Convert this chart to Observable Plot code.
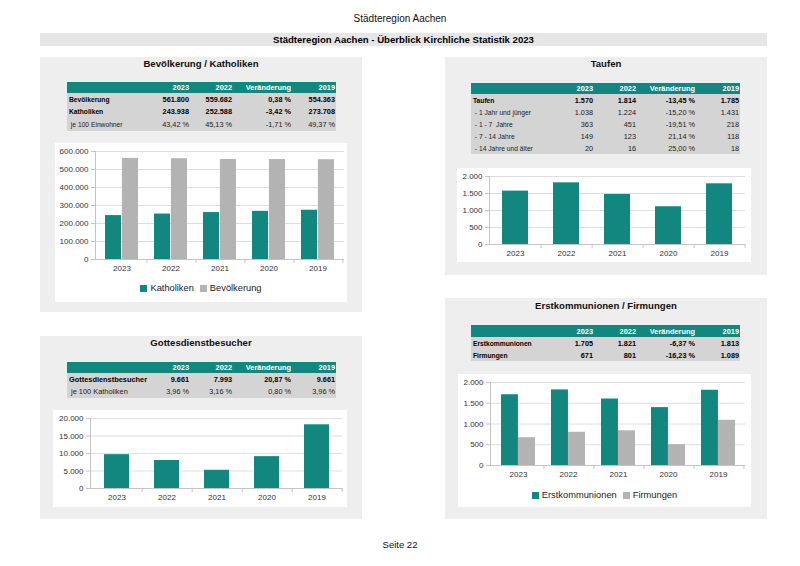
<!DOCTYPE html>
<html><head><meta charset="utf-8">
<script src="https://cdn.jsdelivr.net/npm/d3@7"></script>
<script src="https://cdn.jsdelivr.net/npm/@observablehq/plot@0.6"></script>
<style>
body{margin:0;background:#fff;font-family:"Liberation Sans",Arial,sans-serif;}
#page{position:relative;width:800px;height:566px;overflow:hidden;background:#fff;}
.a{position:absolute;}
.panel{position:absolute;background:#eeeeee;}
.ptitle{position:absolute;text-align:center;font-weight:bold;font-size:9.6px;color:#111;line-height:12px;}
.box{position:absolute;background:#fff;}
table.t{position:absolute;border-collapse:collapse;table-layout:fixed;font-family:"Liberation Sans",Arial,sans-serif;}
table.t td{padding:0 1px;white-space:nowrap;overflow:hidden;text-align:right;font-size:7.3px;color:#222;}
table.t td.l{text-align:left;font-size:6.7px;padding-left:2px;}
table.t tr.h td{background:#12877f;color:#fff;font-weight:bold;font-size:7.4px;}
table.t tr.r td{background:#d4d4d4;}
table.t tr.b td{font-weight:bold;color:#000;}
.legend{position:absolute;left:0;right:0;display:flex;justify-content:center;align-items:center;font-size:9.3px;color:#222;gap:6px;}
.legend span.sw{display:inline-block;width:7px;height:7px;margin-right:3px;vertical-align:middle;}
</style>
</head><body>
<div id="page"></div>
<script>
// ---------- data ----------
const years = ["2023", "2022", "2021", "2020", "2019"];
const katholiken = [243938, 252588, 260800, 267600, 273708];
const bevoelkerung = [561800, 559682, 555500, 555200, 554363];
const taufen = [1570, 1814, 1472, 1110, 1785];
const gottesdienstbesucher = [9661, 7993, 5200, 9100, 18200];
const erstkommunionen = [1705, 1821, 1602, 1395, 1813];
const firmungen = [671, 801, 837, 502, 1089];

const tableHeader = ["", "2023", "2022", "Veränderung", "2019"];
const tabBevoelkerung = [
  ["Bevölkerung", "561.800", "559.682", "0,38 %", "554.363", true],
  ["Katholiken", "243.938", "252.588", "-3,42 %", "273.708", true],
  [" je 100 Einwohner", "43,42 %", "45,13 %", "-1,71 %", "49,37 %", false]
];
const tabTaufen = [
  ["Taufen", "1.570", "1.814", "-13,45 %", "1.785", true],
  [" - 1 Jahr und jünger", "1.038", "1.224", "-15,20 %", "1.431", false],
  [" - 1 - 7  Jahre", "363", "451", "-19,51 %", "218", false],
  [" - 7 - 14 Jahre", "149", "123", "21,14 %", "118", false],
  [" - 14 Jahre und älter", "20", "16", "25,00 %", "18", false]
];
const tabGottesdienst = [
  ["Gottesdienstbesucher", "9.661", "7.993", "20,87 %", "9.661", true],
  [" je 100 Katholiken", "3,96 %", "3,16 %", "0,80 %", "3,96 %", false]
];
const tabSakramente = [
  ["Erstkommunionen", "1.705", "1.821", "-6,37 %", "1.813", true],
  ["Firmungen", "671", "801", "-16,23 %", "1.089", true]
];

const pageTitle = "Städteregion Aachen";
const pageSubtitle = "Städteregion Aachen - Überblick Kirchliche Statistik 2023";
const footer = "Seite 22";

const TEAL = "#12877f", GREY = "#b3b3b3";

// ---------- helpers ----------
const page = document.getElementById("page");
function div(cls, css, text) {
  const d = document.createElement("div");
  if (cls) d.className = cls;
  Object.assign(d.style, css);
  if (text != null) d.textContent = text;
  page.appendChild(d);
  return d;
}
const fmtDE = d3.formatLocale({decimal: ",", thousands: ".", grouping: [3], currency: ["", " €"]}).format(",d");

function makeTable(rows, x, y, headH, rowH, labelSize) {
  const t = document.createElement("table");
  t.className = "t";
  Object.assign(t.style, {left: x + "px", top: y + "px", width: "269px"});
  const cg = document.createElement("colgroup");
  [83, 40, 43, 59, 44].forEach(w => { const c = document.createElement("col"); c.style.width = w + "px"; cg.appendChild(c); });
  t.appendChild(cg);
  const hr = document.createElement("tr"); hr.className = "h"; hr.style.height = headH + "px";
  tableHeader.forEach((h, i) => { const td = document.createElement("td"); td.textContent = h; if (i === 0) td.className = "l"; hr.appendChild(td); });
  t.appendChild(hr);
  rows.forEach(r => {
    const tr = document.createElement("tr"); tr.className = "r" + (r[5] ? " b" : ""); tr.style.height = rowH + "px";
    r.slice(0, 5).forEach((v, i) => {
      const td = document.createElement("td"); td.textContent = v;
      if (i === 0) { td.className = "l"; td.style.whiteSpace = "pre"; if (labelSize) td.style.fontSize = labelSize + "px"; }
      tr.appendChild(td);
    });
    t.appendChild(tr);
  });
  page.appendChild(t);
}

function chart({x, y, w, h, svgH, ml, mr, mt, mb, yMax, yStep, series, pi, po, legend}) {
  const box = div("box", {left: x + "px", top: y + "px", width: w + "px", height: h + "px"});
  const step = (w - ml - mr) / (years.length - pi + 2 * po);
  const bw = step * (1 - pi);
  const n = series.length;
  const ticks = d3.range(0, yMax + 1, yStep);
  const marks = [
    Plot.gridY(ticks, {stroke: "#dedede", strokeOpacity: 1}),
    Plot.frame({anchor: "left", stroke: "#c4c4c4"})
  ];
  series.forEach((s, k) => {
    marks.push(Plot.barY(years.map((yr, i) => ({year: yr, value: s.values[i]})), {
      x: "year", y: "value", fill: s.color,
      insetLeft: k * bw / n, insetRight: (n - 1 - k) * bw / n
    }));
  });
  marks.push(Plot.ruleY([0], {stroke: "#c4c4c4"}));
  // category boundary ticks below the baseline
  marks.push(Plot.axisX(years, {tickSize: 4, dx: step / 2, tickFormat: () => "", stroke: "#c4c4c4"}));
  marks.push(Plot.axisY(ticks, {tickSize: 4, tickPadding: 3, tickFormat: fmtDE, stroke: "#c4c4c4", fill: "#333"}));
  marks.push(Plot.axisX({tickSize: 0, tickPadding: 6, fill: "#333"}));
  const p = Plot.plot({
    width: w, height: svgH,
    marginLeft: ml, marginRight: mr, marginTop: mt, marginBottom: mb,
    style: {fontFamily: "Liberation Sans, Arial, sans-serif", fontSize: "8px", color: "#333", background: "transparent", overflow: "visible"},
    x: {domain: years, paddingInner: pi, paddingOuter: po, align: 0.5, label: null, axis: null},
    y: {domain: [0, yMax], label: null, axis: null},
    marks
  });
  p.style.position = "absolute"; p.style.left = "0px"; p.style.top = "0px";
  box.appendChild(p);
  if (legend) {
    const lg = document.createElement("div");
    lg.className = "legend";
    lg.style.top = legend + "px";
    series.forEach(s => {
      const it = document.createElement("span");
      it.innerHTML = `<span class="sw" style="background:${s.color}"></span>`;
      it.appendChild(document.createTextNode(s.name));
      lg.appendChild(it);
    });
    box.appendChild(lg);
  }
}

// ---------- page ----------
div("a", {left: "0px", width: "800px", top: "13px", textAlign: "center", fontSize: "10px", color: "#111", lineHeight: "12px"}, pageTitle);
div("a", {left: "40px", width: "727px", top: "33px", height: "13px", background: "#e6e6e6", textAlign: "center", fontSize: "9.6px", fontWeight: "bold", lineHeight: "13px", color: "#000"}, pageSubtitle);

// panels
div("panel", {left: "40px", top: "57px", width: "322px", height: "255px"});
div("panel", {left: "445px", top: "57px", width: "322px", height: "218px"});
div("panel", {left: "40px", top: "336px", width: "322px", height: "183px"});
div("panel", {left: "445px", top: "298px", width: "322px", height: "221px"});

div("ptitle", {left: "40px", width: "322px", top: "58px"}, "Bevölkerung / Katholiken");
div("ptitle", {left: "445px", width: "322px", top: "58px"}, "Taufen");
div("ptitle", {left: "40px", width: "322px", top: "337px"}, "Gottesdienstbesucher");
div("ptitle", {left: "445px", width: "322px", top: "300px"}, "Erstkommunionen / Firmungen");

makeTable(tabBevoelkerung, 67, 82, 11, 12.5);
makeTable(tabTaufen, 471, 83, 11, 12);
makeTable(tabGottesdienst, 67, 362, 11, 12.5, 7.4);
makeTable(tabSakramente, 471, 325, 12, 12);

chart({x: 55, y: 143, w: 292, h: 159, svgH: 138, ml: 40, mr: 3, mt: 8, mb: 22, yMax: 600000, yStep: 100000, pi: 0.32, po: 0.16,
  series: [{name: "Katholiken", values: katholiken, color: TEAL}, {name: "Bevölkerung", values: bevoelkerung, color: GREY}], legend: 140});
chart({x: 457, y: 168, w: 294, h: 94, svgH: 94, ml: 32, mr: 6, mt: 8, mb: 18, yMax: 2000, yStep: 500, pi: 0.5, po: 0.25,
  series: [{name: "Taufen", values: taufen, color: TEAL}]});
chart({x: 53, y: 410, w: 294, h: 97, svgH: 97, ml: 37, mr: 5, mt: 8, mb: 19, yMax: 20000, yStep: 5000, pi: 0.5, po: 0.25,
  series: [{name: "Gottesdienstbesucher", values: gottesdienstbesucher, color: TEAL}]});
chart({x: 458, y: 374, w: 293, h: 133, svgH: 109, ml: 32, mr: 6, mt: 8, mb: 18, yMax: 2000, yStep: 500, pi: 0.33, po: 0.17,
  series: [{name: "Erstkommunionen", values: erstkommunionen, color: TEAL}, {name: "Firmungen", values: firmungen, color: GREY}], legend: 116});

div("a", {left: "0px", width: "800px", top: "539px", textAlign: "center", fontSize: "9.5px", color: "#111", lineHeight: "12px"}, footer);
</script>
</body></html>
